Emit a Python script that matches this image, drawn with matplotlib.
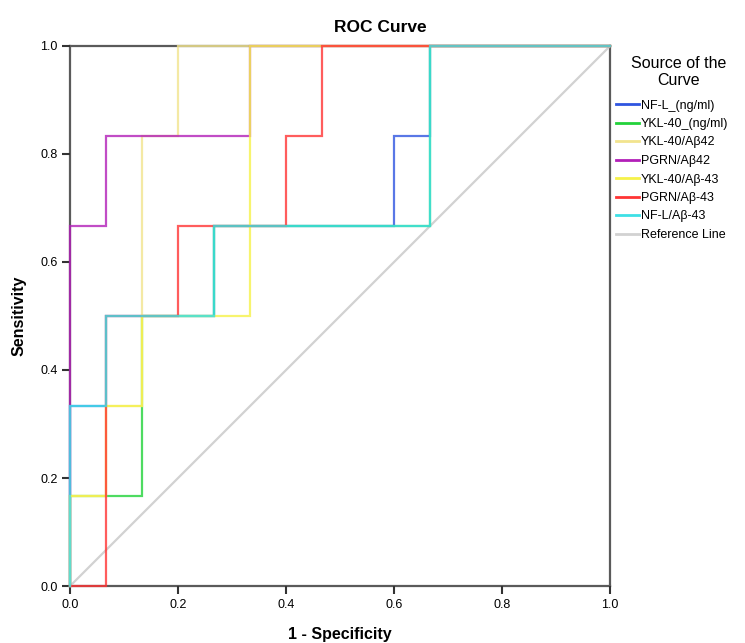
import matplotlib
matplotlib.use("Agg")
import matplotlib.pyplot as plt

plt.rcParams['font.family'] = ['Liberation Sans', 'DejaVu Sans']

# ROC step curves: (1 - specificity, sensitivity) vertices
names = ['NF-L_(ng/ml)', 'YKL-40_(ng/ml)', 'YKL-40/Aβ42', 'PGRN/Aβ42',
         'YKL-40/Aβ-43', 'PGRN/Aβ-43', 'NF-L/Aβ-43']
colors = ['#2f55e0', '#22d23a', '#f2e48e', '#b21fb8',
          '#f6f24a', '#ff3434', '#3ee0e6']

fpr_nfl = [0, 0, 0.0667, 0.0667, 0.2667, 0.2667, 0.6, 0.6, 0.6667, 0.6667, 1]
tpr_nfl = [0, 0.3333, 0.3333, 0.5, 0.5, 0.6667, 0.6667, 0.8333, 0.8333, 1, 1]

fpr_ykl = [0, 0, 0.1333, 0.1333, 0.2667, 0.2667, 0.6667, 0.6667, 1]
tpr_ykl = [0, 0.1667, 0.1667, 0.5, 0.5, 0.6667, 0.6667, 1, 1]

fpr_ykl_ab42 = [0, 0, 0.0667, 0.0667, 0.1333, 0.1333, 0.2, 0.2, 1]
tpr_ykl_ab42 = [0, 0.1667, 0.1667, 0.3333, 0.3333, 0.8333, 0.8333, 1, 1]

fpr_pgrn_ab42 = [0, 0, 0.0667, 0.0667, 0.3333, 0.3333, 1]
tpr_pgrn_ab42 = [0, 0.6667, 0.6667, 0.8333, 0.8333, 1, 1]

fpr_ykl_ab43 = [0, 0, 0.0667, 0.0667, 0.1333, 0.1333, 0.3333, 0.3333, 1]
tpr_ykl_ab43 = [0, 0.1667, 0.1667, 0.3333, 0.3333, 0.5, 0.5, 1, 1]

fpr_pgrn_ab43 = [0, 0.0667, 0.0667, 0.2, 0.2, 0.4, 0.4, 0.4667, 0.4667, 1]
tpr_pgrn_ab43 = [0, 0, 0.5, 0.5, 0.6667, 0.6667, 0.8333, 0.8333, 1, 1]

fpr_nfl_ab43 = [0, 0, 0.0667, 0.0667, 0.2667, 0.2667, 0.6667, 0.6667, 1]
tpr_nfl_ab43 = [0, 0.3333, 0.3333, 0.5, 0.5, 0.6667, 0.6667, 1, 1]

curves = [(fpr_nfl, tpr_nfl), (fpr_ykl, tpr_ykl), (fpr_ykl_ab42, tpr_ykl_ab42),
          (fpr_pgrn_ab42, tpr_pgrn_ab42), (fpr_ykl_ab43, tpr_ykl_ab43),
          (fpr_pgrn_ab43, tpr_pgrn_ab43), (fpr_nfl_ab43, tpr_nfl_ab43)]

ticks = [0.0, 0.2, 0.4, 0.6, 0.8, 1.0]

fig = plt.figure(figsize=(7.45, 6.43), dpi=100)
ax = fig.add_axes([0.094, 0.0886, 0.725, 0.84])

for (x, y), name, c in zip(curves, names, colors):
    ax.plot(x, y, color=c, lw=1.6, alpha=0.8, label=name, zorder=3,
            clip_on=False, solid_joinstyle='miter')
ax.plot([0, 1], [0, 1], color='#d2d2d2', lw=1.6, label='Reference Line',
        zorder=2, clip_on=False)

ax.set_xlim(0, 1)
ax.set_ylim(0, 1)
ax.set_xticks(ticks)
ax.set_yticks(ticks)
ax.set_xticklabels(['%.1f' % t for t in ticks], fontsize=9)
ax.set_yticklabels(['%.1f' % t for t in ticks], fontsize=9)
ax.tick_params(direction='out', length=6, width=1.5, color='#333333', pad=3)
for s in ax.spines.values():
    s.set_color('#5a5a5a')
    s.set_linewidth(1.6)
    s.set_zorder(1)

fig.text(380 / 745, 1 - 28 / 643, 'ROC Curve', fontsize=12.5,
         fontweight='bold', ha='center', va='center')
ax.set_xlabel('1 - Specificity', fontsize=11.5, fontweight='bold')
ax.xaxis.set_label_coords(0.5, -0.076)
ax.set_ylabel('Sensitivity', fontsize=11.5, fontweight='bold')
ax.yaxis.set_label_coords(-0.08, 0.5)

# legend heading sits above the entries, centred
fig.text(679 / 745, 1 - 72 / 643, 'Source of the\nCurve', fontsize=11.5,
         ha='center', va='center', multialignment='center', linespacing=1.2)

leg = ax.legend(loc='upper left', bbox_to_anchor=(613 / 745, 1 - 97 / 643),
                bbox_transform=fig.transFigure, frameon=False,
                fontsize=9, handlelength=1.9, handletextpad=0.15,
                labelspacing=0.52, borderaxespad=0, borderpad=0.2)
for line in leg.get_lines():
    line.set_alpha(1)
    line.set_linewidth(2)

fig.savefig('out.png', dpi=100)
